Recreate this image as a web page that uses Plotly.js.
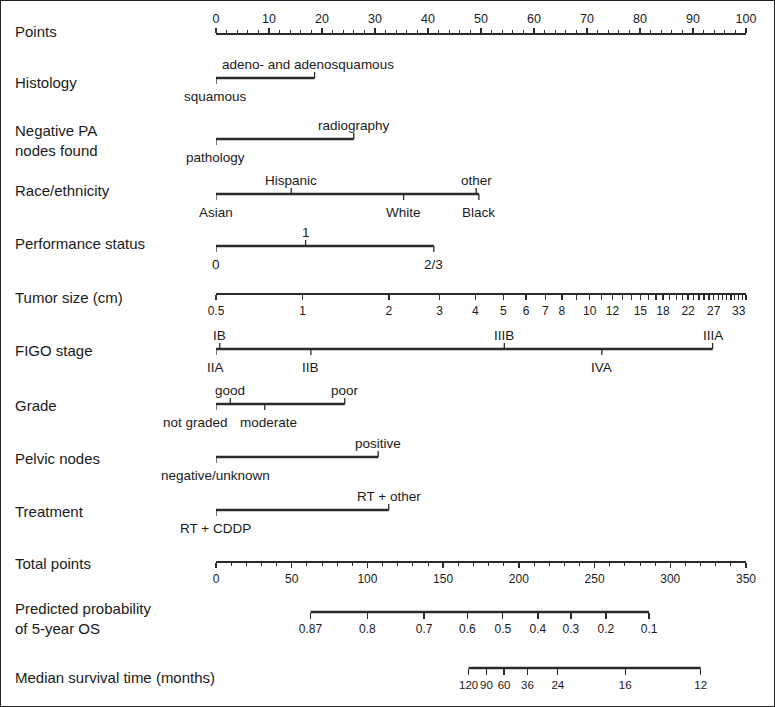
<!DOCTYPE html>
<html>
<head>
<meta charset="utf-8">
<script src="https://cdn.plot.ly/plotly-3.0.1.min.js"></script>
<style>html,body{margin:0;padding:0;background:#fff;}</style>
</head>
<body>
<div id="chart" style="width:775px;height:707px;"></div>
<script>
// ---------------- DATA ----------------
const pointsRange = [0, 100];
const totalPointsRange = [0, 350];

const histologyLevels = ['squamous', 'adeno- and adenosquamous'];
const histologyPoints = [0, 18.6];

const paNodesLevels = ['pathology', 'radiography'];
const paNodesPoints = [0, 26.0];

const raceLevels = ['Asian', 'Hispanic', 'White', 'other', 'Black'];
const racePoints = [0, 14.2, 35.4, 49.1, 49.6];

const performanceLevels = ['0', '1', '2/3'];
const performancePoints = [0, 16.9, 41.1];

const tumorSizeRange = [0.5, 35];
const tumorSizeTicks = [0.5, 1, 2, 3, 4, 5, 6, 7, 8, 9, 10, 11, 12, 13, 14, 15, 16, 17, 18, 19, 20,
  21, 22, 23, 24, 25, 26, 27, 28, 29, 30, 31, 32, 33, 34, 35];
const tumorSizeLabels = [0.5, 1, 2, 3, 4, 5, 6, 7, 8, 10, 12, 15, 18, 22, 27, 33];

const figoLevels = ['IIA', 'IB', 'IIB', 'IIIB', 'IVA', 'IIIA'];
const figoPoints = [0, 0.7, 17.9, 54.4, 72.8, 93.7];

const gradeLevels = ['not graded', 'good', 'moderate', 'poor'];
const gradePoints = [0, 2.7, 9.2, 24.3];

const pelvicLevels = ['negative/unknown', 'positive'];
const pelvicPoints = [0, 30.6];

const treatmentLevels = ['RT + CDDP', 'RT + other'];
const treatmentPoints = [0, 32.6];

const probLabels = ['0.87', '0.8', '0.7', '0.6', '0.5', '0.4', '0.3', '0.2', '0.1'];
const probTotalPoints = [62.4, 100.0, 137.4, 166.0, 189.4, 212.6, 234.4, 257.5, 286.0];

const medianLabels = ['120', '90', '60', '36', '24', '16', '12'];
const medianTotalPoints = [166.8, 178.6, 190.2, 205.7, 225.7, 270.2, 320.1];

// ---------------- LAYOUT / STYLE ----------------
const W = 775, H = 707;
const FONT = 'Liberation Sans, Arial, Helvetica, sans-serif';
const INK = '#1a1a1a';
const LINE = '#2a2a2a';
const dom = [216 / W, 746 / W];
const pos = y => 1 - y / H;

// category rows: levels, points, label side (1 = above, -1 = below), line y, label x shifts
const catRows = [
  {name: 'Histology', levels: histologyLevels, pts: histologyPoints, side: [-1, 1], y: 78, ly: 82, shift: [0, -7]},
  {name: 'Negative PA<br>nodes found', levels: paNodesLevels, pts: paNodesPoints, side: [-1, 1], y: 139, ly: 140, shift: [0, 0]},
  {name: 'Race/ethnicity', levels: raceLevels, pts: racePoints, side: [-1, 1, -1, 1, -1], y: 194, ly: 190, shift: [0, 0, 0, 0, 0]},
  {name: 'Performance status', levels: performanceLevels, pts: performancePoints, side: [-1, 1, -1], y: 246, ly: 243, shift: [0, 0, 0]},
  {name: 'FIGO stage', levels: figoLevels, pts: figoPoints, side: [-1, 1, -1, 1, -1, 1], y: 349, ly: 350, shift: [0, 0, 0, 0, 0, 0]},
  {name: 'Grade', levels: gradeLevels, pts: gradePoints, side: [-1, 1, -1, 1], y: 404, ly: 405, shift: [-20, 0, 4, 0]},
  {name: 'Pelvic nodes', levels: pelvicLevels, pts: pelvicPoints, side: [-1, 1], y: 457, ly: 458, shift: [0, 0]},
  {name: 'Treatment', levels: treatmentLevels, pts: treatmentPoints, side: [-1, 1], y: 510, ly: 511, shift: [0, 0]}
];

const axisRows = [
  {name: 'Points', y: 34, ly: 31},
  {name: 'Tumor size (cm)', y: 294, ly: 297},
  {name: 'Total points', y: 562, ly: 563},
  {name: 'Predicted probability<br>of 5-year OS', y: 612, ly: 618},
  {name: 'Median survival time (months)', y: 668, ly: 677}
];

const traces = [];
const annotations = [];
const tickX = [], tickY = [];

catRows.forEach(r => {
  traces.push({
    x: [Math.min(...r.pts), Math.max(...r.pts)], y: [r.y, r.y],
    xaxis: 'x', yaxis: 'y', mode: 'lines', hoverinfo: 'skip',
    line: {color: LINE, width: 2.3}
  });
  r.pts.forEach((p, i) => {
    tickX.push(p, p, null);
    tickY.push(r.y, r.y - r.side[i] * 6, null);
    annotations.push({
      x: p, y: r.y - r.side[i] * (r.side[i] > 0 ? 14 : 18), xref: 'x', yref: 'y',
      text: r.levels[i], showarrow: false, xanchor: 'center', yanchor: 'middle',
      xshift: r.shift[i], font: {family: FONT, size: 13.5, color: INK}
    });
  });
  annotations.push({
    x: 13 / W, xref: 'paper', y: r.ly, yref: 'y', text: r.name, showarrow: false,
    xanchor: 'left', yanchor: 'middle', align: 'left',
    font: {family: FONT, size: 15, color: INK}
  });
});

traces.push({
  x: tickX, y: tickY, xaxis: 'x', yaxis: 'y', mode: 'lines', hoverinfo: 'skip',
  line: {color: LINE, width: 1.3}
});

axisRows.forEach(r => {
  annotations.push({
    x: 13 / W, xref: 'paper', y: r.ly, yref: 'y', text: r.name, showarrow: false,
    xanchor: 'left', yanchor: 'middle', align: 'left',
    font: {family: FONT, size: 15, color: INK}
  });
});

// probability and median survival lines (span of their ticks, on total-points scale)
traces.push({
  x: [Math.min(...probTotalPoints), Math.max(...probTotalPoints)], y: [612, 612],
  xaxis: 'x4', yaxis: 'y', mode: 'lines', hoverinfo: 'skip', line: {color: LINE, width: 2.3}
});
traces.push({
  x: [Math.min(...medianTotalPoints), Math.max(...medianTotalPoints)], y: [668, 668],
  xaxis: 'x5', yaxis: 'y', mode: 'lines', hoverinfo: 'skip', line: {color: LINE, width: 2.3}
});
// anchor traces for the tumor size and total points axes
traces.push({x: [tumorSizeRange[0]], y: [null], xaxis: 'x2', yaxis: 'y', mode: 'lines', hoverinfo: 'skip'});
traces.push({x: [totalPointsRange[0]], y: [null], xaxis: 'x3', yaxis: 'y', mode: 'lines', hoverinfo: 'skip'});

const baseAxis = {
  domain: dom, showgrid: false, zeroline: false, showline: true, linecolor: LINE, linewidth: 2.3,
  ticks: 'outside', tickcolor: LINE, tickwidth: 1.3, ticklen: 5, tickangle: 0,
  tickfont: {family: FONT, size: 12, color: INK}, anchor: 'free', fixedrange: true
};

const layout = {
  width: W, height: H, margin: {l: 0, r: 0, t: 0, b: 0},
  paper_bgcolor: '#fff', plot_bgcolor: 'rgba(0,0,0,0)', showlegend: false,
  xaxis: Object.assign({}, baseAxis, {
    range: pointsRange, position: pos(34), side: 'top', tickmode: 'linear', tick0: 0, dtick: 10,
    ticklen: 5, tickfont: {family: FONT, size: 12.5, color: INK},
    minor: {dtick: 2, tick0: 0, ticks: 'outside', ticklen: 3, tickwidth: 1, tickcolor: LINE, showgrid: false}
  }),
  xaxis2: Object.assign({}, baseAxis, {
    type: 'log', range: [Math.log10(tumorSizeRange[0]), Math.log10(tumorSizeRange[1])],
    overlaying: 'x', position: pos(294), side: 'bottom', tickmode: 'array',
    tickvals: tumorSizeTicks,
    ticktext: tumorSizeTicks.map(v => tumorSizeLabels.includes(v) ? String(v) : ''),
    ticklen: 5
  }),
  xaxis3: Object.assign({}, baseAxis, {
    range: totalPointsRange, overlaying: 'x', position: pos(562), side: 'bottom',
    tickmode: 'linear', tick0: 0, dtick: 50, ticklen: 5,
    minor: {dtick: 10, tick0: 0, ticks: 'outside', ticklen: 3, tickwidth: 1, tickcolor: LINE, showgrid: false}
  }),
  xaxis4: Object.assign({}, baseAxis, {
    range: totalPointsRange, overlaying: 'x', position: pos(612), side: 'bottom', showline: false,
    tickmode: 'array', tickvals: probTotalPoints, ticktext: probLabels, ticklen: 6
  }),
  xaxis5: Object.assign({}, baseAxis, {
    range: totalPointsRange, overlaying: 'x', position: pos(668), side: 'bottom', showline: false,
    tickmode: 'array', tickvals: medianTotalPoints, ticktext: medianLabels, ticklen: 6,
    tickfont: {family: FONT, size: 11.5, color: INK}
  }),
  yaxis: {domain: [0, 1], range: [H, 0], visible: false, fixedrange: true},
  annotations: annotations,
  shapes: [{type: 'rect', xref: 'paper', yref: 'paper', x0: 0, x1: 1, y0: 0, y1: 1,
    line: {color: '#222', width: 2}}]
};

Plotly.newPlot('chart', traces, layout, {staticPlot: true, displayModeBar: false});
</script>
</body>
</html>
